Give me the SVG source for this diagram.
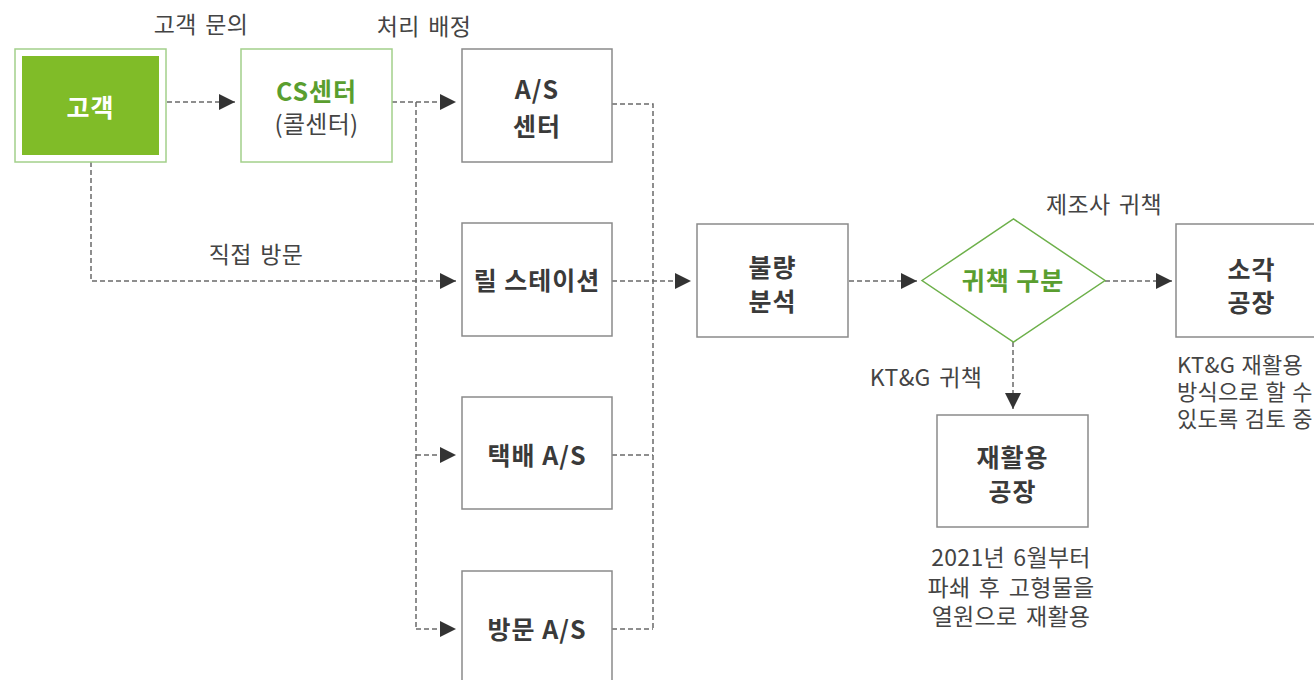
<svg xmlns="http://www.w3.org/2000/svg" width="1314" height="680" viewBox="0 0 1314 680">
<defs>
<style>
.bg{fill:#ffffff}
.box{fill:#ffffff;stroke:#8a8a8a;stroke-width:1.5}
.gbox{fill:#ffffff;stroke:#a3d08a;stroke-width:1.5}
.gfill{fill:#80bc28}
.dia{fill:#ffffff;stroke:#6db04a;stroke-width:1.5}
.conn{fill:none;stroke:#6a6a6a;stroke-width:1.5;stroke-dasharray:5 3}
.nt{font-family:"Noto Sans CJK KR","Noto Sans",sans-serif;font-weight:700;font-size:25px;letter-spacing:1px;fill:#3a3a3a;text-anchor:middle}
.gt{fill:#5a9e2f}
.wt{fill:#ffffff}
.lb{font-family:"Noto Sans CJK KR","Noto Sans",sans-serif;font-weight:400;font-size:23px;letter-spacing:0.3px;word-spacing:3px;fill:#444444}
.rn{font-size:22px;word-spacing:1px}
.mid{text-anchor:middle}
</style>
<marker id="arr" viewBox="0 0 16 16" refX="16" refY="8" markerWidth="16" markerHeight="16" markerUnits="userSpaceOnUse" orient="auto">
<path d="M0,0 L16,8 L0,16 Z" fill="#333333"/>
</marker>
</defs>
<rect class="bg" x="0" y="0" width="1314" height="680"/>

<g id="connectors">
<path class="conn" d="M167,102 H235" marker-end="url(#arr)"/>
<path class="conn" d="M392,102 H456" marker-end="url(#arr)"/>
<path class="conn" d="M416,102 V629"/>
<path class="conn" d="M416,455 H456" marker-end="url(#arr)"/>
<path class="conn" d="M416,629 H456" marker-end="url(#arr)"/>
<path class="conn" d="M91,162 V281 H456" marker-end="url(#arr)"/>
<path class="conn" d="M612,104 H653 V629"/>
<path class="conn" d="M612,455 H653"/>
<path class="conn" d="M612,629 H653"/>
<path class="conn" d="M612,281 H691" marker-end="url(#arr)"/>
<path class="conn" d="M849,281 H917" marker-end="url(#arr)"/>
<path class="conn" d="M1105,281 H1172" marker-end="url(#arr)"/>
<path class="conn" d="M1013,342 V409" marker-end="url(#arr)"/>
</g>

<g id="labels">
<text class="lb mid" x="201" y="33">고객 문의</text>
<text class="lb mid" x="424" y="35">처리 배정</text>
<text class="lb mid" x="256" y="263">직접 방문</text>
<text class="lb mid" x="1104" y="213">제조사 귀책</text>
<text class="lb mid" x="926" y="386">KT&amp;G 귀책</text>
</g>

<g id="node-customer">
<rect class="gbox" x="15" y="49" width="151" height="113"/>
<rect class="gfill" x="22" y="56" width="137" height="99"/>
<text class="nt wt" x="90.5" y="117">고객</text>
</g>

<g id="node-cs">
<rect class="gbox" x="241" y="49" width="151" height="113"/>
<text class="nt gt" x="316.5" y="101">CS센터</text>
<text class="lb gt mid" x="316.5" y="133" style="font-size:24px">(콜센터)</text>
</g>

<g id="node-as-center">
<rect class="box" x="462" y="49" width="150" height="113"/>
<text class="nt" x="537" y="99">A/S</text>
<text class="nt" x="537" y="136">센터</text>
</g>

<g id="node-reel">
<rect class="box" x="462" y="223" width="150" height="113"/>
<text class="nt" x="537" y="290">릴 스테이션</text>
</g>

<g id="node-delivery">
<rect class="box" x="462" y="397" width="150" height="112"/>
<text class="nt" x="537" y="465">택배 A/S</text>
</g>

<g id="node-visit">
<rect class="box" x="462" y="571" width="150" height="112"/>
<text class="nt" x="537" y="639">방문 A/S</text>
</g>

<g id="node-analysis">
<rect class="box" x="697" y="224" width="151" height="113"/>
<text class="nt" x="772.5" y="277">불량</text>
<text class="nt" x="772.5" y="311">분석</text>
</g>

<g id="node-decision">
<polygon class="dia" points="922,280.5 1013.5,219 1105,280.5 1013.5,342"/>
<text class="nt gt" x="1013" y="290">귀책 구분</text>
</g>

<g id="node-incinerate">
<rect class="box" x="1176" y="224" width="151" height="113"/>
<text class="nt" x="1251.5" y="279">소각</text>
<text class="nt" x="1251.5" y="312">공장</text>
<text class="lb rn" x="1177" y="373">KT&amp;G 재활용</text>
<text class="lb rn" x="1177" y="400">방식으로 할 수</text>
<text class="lb rn" x="1177" y="427">있도록 검토 중</text>
</g>

<g id="node-recycle">
<rect class="box" x="937" y="415" width="151" height="112"/>
<text class="nt" x="1012.5" y="467">재활용</text>
<text class="nt" x="1012.5" y="501">공장</text>
<text class="lb mid" x="1011" y="566">2021년 6월부터</text>
<text class="lb mid" x="1011" y="596">파쇄 후 고형물을</text>
<text class="lb mid" x="1011" y="625">열원으로 재활용</text>
</g>
</svg>
